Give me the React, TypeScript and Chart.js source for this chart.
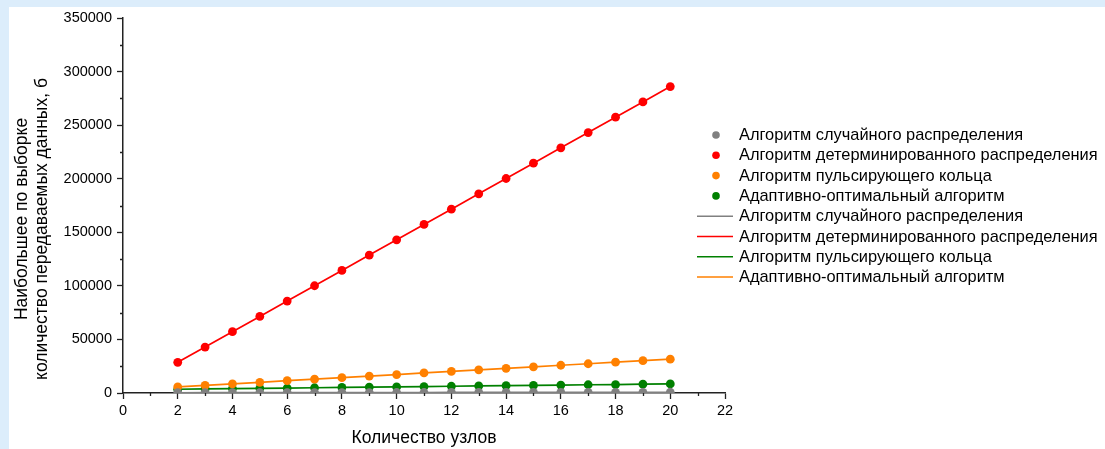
import React, { useEffect, useRef } from "react";
import { Chart, registerables } from "chart.js";

Chart.register(...registerables);

// Number of nodes in the network
const nodes = [2, 3, 4, 5, 6, 7, 8, 9, 10, 11, 12, 13, 14, 15, 16, 17, 18, 19, 20];

// Largest sampled amount of transmitted data, bytes
const randomAlg = [250, 280, 300, 330, 350, 380, 400, 420, 450, 470, 500, 520, 550, 570, 600, 620, 650, 670, 700];
const determAlg = [28600, 42900, 57200, 71500, 85800, 100100, 114400, 128700, 143000, 157300, 171600, 185900, 200200, 214500, 228800, 243100, 257400, 271700, 286000];
const ringAlg = [5700, 7100, 8600, 10000, 11500, 12900, 14300, 15800, 17200, 18700, 20100, 21600, 23000, 24400, 25900, 27300, 28800, 30200, 31600];
const adaptiveAlg = [3500, 3800, 4100, 4400, 4600, 4900, 5200, 5500, 5700, 6000, 6300, 6600, 6800, 7100, 7400, 7700, 7900, 8200, 8500];

const labelRandom = "Алгоритм случайного распределения";
const labelDeterm = "Алгоритм детерминированного распределения";
const labelRing = "Алгоритм пульсирующего кольца";
const labelAdaptive = "Адаптивно-оптимальный алгоритм";

const xTitle = "Количество узлов";
const yTitle = ["Наибольшее по выборке", "количество передаваемых данных, б"];

const FONT = "'Liberation Sans', Arial, sans-serif";

const pts = (ys: number[]) => nodes.map((x, i) => ({ x, y: ys[i] }));

const frameBg = {
  id: "frameBg",
  beforeDraw(chart: any) {
    const { ctx, width, height } = chart;
    ctx.save();
    ctx.fillStyle = "#dcedfb";
    ctx.fillRect(0, 0, width, height);
    ctx.fillStyle = "#ffffff";
    ctx.fillRect(9, 7, width - 9, height - 7);
    ctx.restore();
  },
};

const extras = {
  id: "extras",
  afterDraw(chart: any) {
    const { ctx, chartArea, scales } = chart;
    const xs = scales.x;
    const ys = scales.y;
    ctx.save();
    // minor ticks
    ctx.strokeStyle = "#222";
    ctx.lineWidth = 1.3;
    ctx.beginPath();
    for (let v = 1; v < 22; v += 2) {
      const px = Math.round(xs.getPixelForValue(v)) + 0.5;
      ctx.moveTo(px, chartArea.bottom);
      ctx.lineTo(px, chartArea.bottom + 3);
    }
    for (let v = 25000; v < 350000; v += 50000) {
      const py = Math.round(ys.getPixelForValue(v)) + 0.5;
      ctx.moveTo(chartArea.left, py);
      ctx.lineTo(chartArea.left - 3, py);
    }
    ctx.stroke();

    // axis titles
    ctx.fillStyle = "#000";
    ctx.textAlign = "center";
    ctx.textBaseline = "middle";
    ctx.font = `17.5px ${FONT}`;
    ctx.fillText(xTitle, (chartArea.left + chartArea.right) / 2, 438);
    ctx.save();
    ctx.translate(22, 219);
    ctx.rotate(-Math.PI / 2);
    ctx.fillText(yTitle[0], 0, 0);
    ctx.restore();
    ctx.save();
    ctx.translate(42.5, 229);
    ctx.rotate(-Math.PI / 2);
    ctx.fillText(yTitle[1], 0, 0);
    ctx.restore();

    // legend
    const items = chart.data.datasets;
    ctx.font = `16.4px ${FONT}`;
    ctx.textAlign = "left";
    ctx.textBaseline = "middle";
    items.forEach((ds: any, i: number) => {
      const cy = 135 + i * 20.3;
      if (ds.showLine) {
        ctx.strokeStyle = ds.borderColor;
        ctx.lineWidth = 1.5;
        ctx.beginPath();
        ctx.moveTo(697, cy);
        ctx.lineTo(733, cy);
        ctx.stroke();
      } else {
        ctx.fillStyle = ds.backgroundColor;
        ctx.beginPath();
        ctx.arc(716, cy, 3.8, 0, Math.PI * 2);
        ctx.fill();
      }
      ctx.fillStyle = "#000";
      ctx.fillText(ds.label, 739, cy + 0.5);
    });
    ctx.restore();
  },
};

const scatterSet = (label: string, ys: number[], color: string) => ({
  label,
  data: pts(ys),
  showLine: false,
  backgroundColor: color,
  borderColor: color,
  pointRadius: 4.4,
  pointBorderWidth: 0,
  order: 1,
});

const lineSet = (label: string, ys: number[], color: string) => ({
  label,
  data: pts(ys),
  showLine: true,
  borderColor: color,
  backgroundColor: color,
  borderWidth: 1.7,
  pointRadius: 0,
  tension: 0,
  order: 2,
});

export default function App() {
  const ref = useRef<HTMLCanvasElement>(null);

  useEffect(() => {
    document.body.style.margin = "0";
    const chart = new Chart(ref.current as HTMLCanvasElement, {
      type: "scatter",
      data: {
        datasets: [
          scatterSet(labelRandom, randomAlg, "#808080"),
          scatterSet(labelDeterm, determAlg, "#ff0000"),
          scatterSet(labelRing, ringAlg, "#ff8000"),
          scatterSet(labelAdaptive, adaptiveAlg, "#008000"),
          lineSet(labelRandom, randomAlg, "#808080"),
          lineSet(labelDeterm, determAlg, "#ff0000"),
          lineSet(labelRing, adaptiveAlg, "#008000"),
          lineSet(labelAdaptive, ringAlg, "#ff8000"),
        ] as any,
      },
      options: {
        animation: false,
        responsive: false,
        layout: { padding: { left: 0, top: 18, right: 380, bottom: 0 } },
        plugins: { legend: { display: false }, tooltip: { enabled: false } },
        scales: {
          x: {
            type: "linear",
            min: 0,
            max: 22,
            afterFit: (s: any) => {
              s.height = 56;
            },
            ticks: {
              stepSize: 2,
              color: "#000",
              padding: 3,
              font: { family: FONT, size: 14.5 },
              callback: (v: any) => String(v),
            },
            grid: {
              drawOnChartArea: false,
              drawTicks: true,
              tickLength: 6,
              tickColor: "#222",
              tickWidth: 1.3,
            },
            border: { color: "#222", width: 1.5 },
          },
          y: {
            type: "linear",
            min: 0,
            max: 350000,
            afterFit: (s: any) => {
              s.width = 123;
            },
            ticks: {
              stepSize: 50000,
              color: "#000",
              padding: 5,
              font: { family: FONT, size: 14.5 },
              callback: (v: any) => String(v),
            },
            grid: {
              drawOnChartArea: false,
              drawTicks: true,
              tickLength: 6,
              tickColor: "#222",
              tickWidth: 1.3,
            },
            border: { color: "#222", width: 1.5 },
          },
        },
      },
      plugins: [frameBg, extras],
    });
    return () => chart.destroy();
  }, []);

  return (
    <div style={{ width: 1105, height: 449 }}>
      <canvas ref={ref} width={1105} height={449} />
    </div>
  );
}
